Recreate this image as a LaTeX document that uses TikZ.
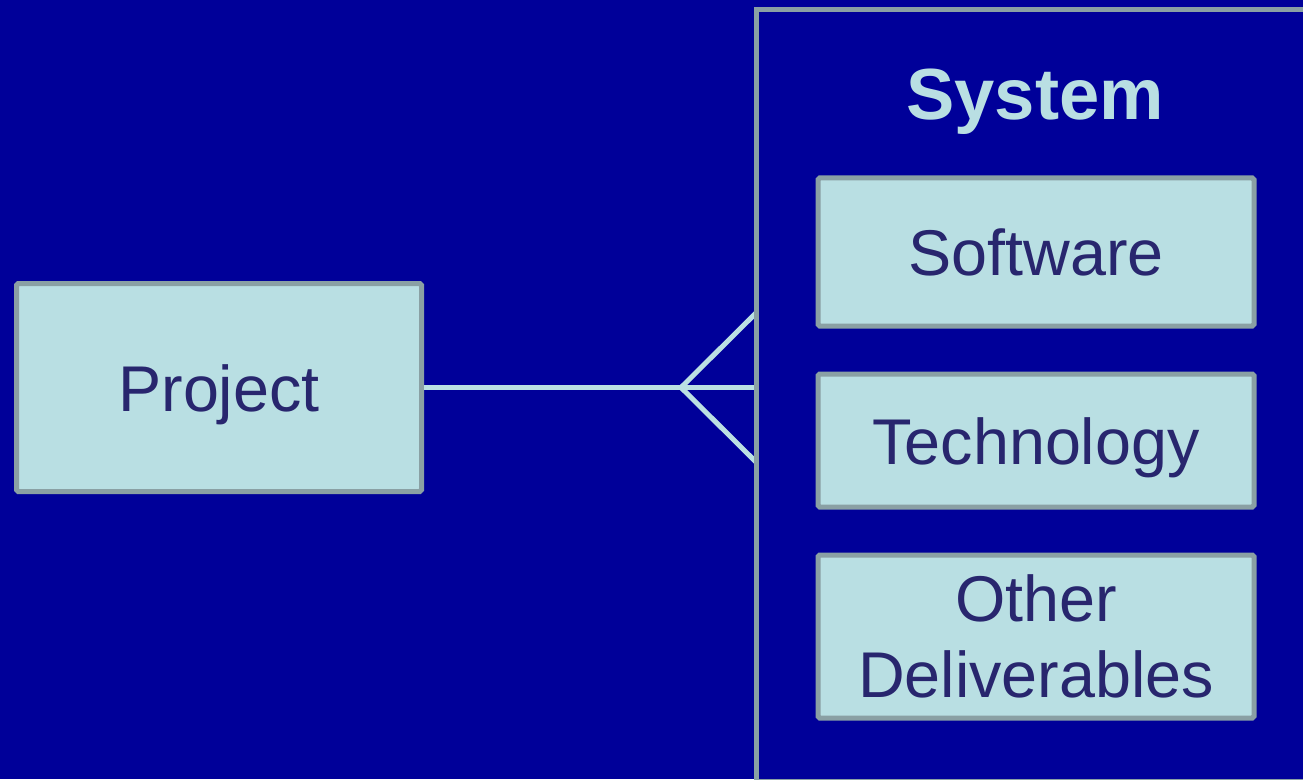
\documentclass[tikz,border=0pt]{standalone}
\usepackage{fontspec}
\setmainfont{Liberation Sans}
\definecolor{slidebg}{RGB}{0,0,153}
\definecolor{boxfill}{RGB}{185,223,227}
\definecolor{boxline}{RGB}{138,160,164}
\definecolor{boxtext}{RGB}{40,38,110}
\definecolor{linklight}{RGB}{187,224,227}
\begin{document}
\begin{tikzpicture}[
        entity/.style={draw=boxline, fill=boxfill, line width=0.05cm, text=boxtext,
            rounded corners=0.5pt,
            font=\fontsize{18.4}{21.8}\selectfont, text height=0.6cm, text depth=0.13cm},
        link/.style={draw=linklight, line width=0.05cm}
    ]
    \useasboundingbox (0, 0) rectangle (13.03, 7.79);
    \fill[slidebg] (0, 0) rectangle (13.03, 7.79);
    \clip (0, 0) rectangle (13.03, 7.79);
    % the entities
    \node[entity, minimum width=4.05cm, minimum height=2.08cm] (project) at (2.19, 3.915) {Project};
    \node[entity, minimum width=4.36cm, minimum height=1.48cm] (software) at (10.36, 5.27) {Software};
    \node[entity, minimum width=4.36cm, minimum height=1.33cm] (technology) at (10.36, 3.385) {Technology};
    \node[entity, minimum width=4.36cm, minimum height=1.63cm, align=center,
        text height={}, text depth={}] (other) at (10.36, 1.425) {Other\\Deliverables};
    \node[text=boxfill, font=\bfseries\fontsize{20.6}{24}\selectfont,
        text height=0.68cm, text depth=0.16cm] (systitle) at (10.35, 6.85) {System};
    % crow's foot
    \coordinate (fork) at (6.81, 3.915);
    \coordinate (forkmid) at (7.56, 3.915);
    \coordinate (forkup) at (7.56, 4.66);
    \coordinate (forkdown) at (7.56, 3.17);
    \draw[link] (project.east) -- (forkmid);
    \draw[link] (forkup) -- (fork) -- (forkdown);
    % the system frame
    \draw[boxline, line width=0.05cm] (7.565, -0.02) rectangle (13.6, 7.695);
\end{tikzpicture}
\end{document}
